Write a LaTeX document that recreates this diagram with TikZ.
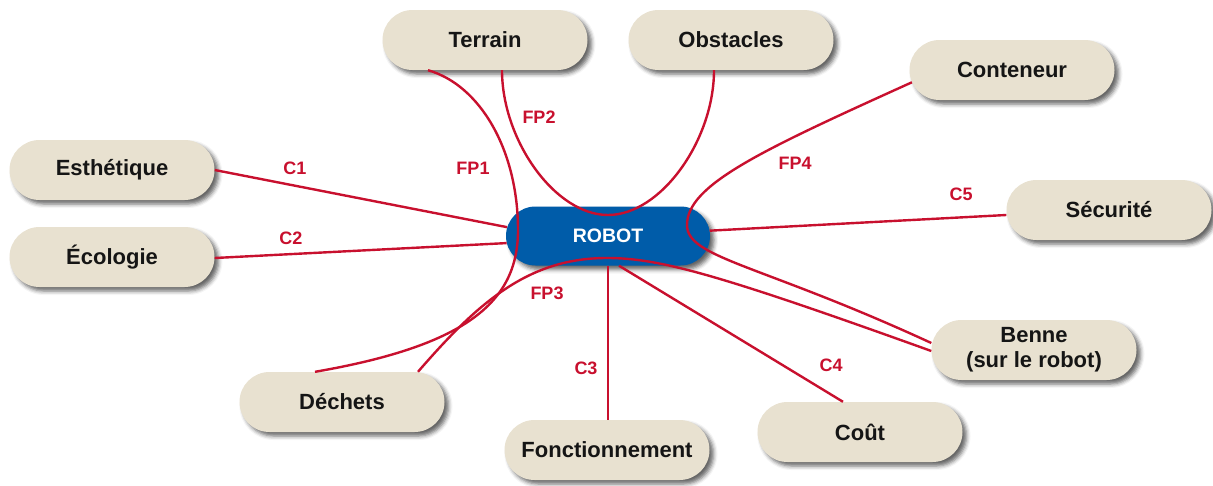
\documentclass[tikz,border=0pt]{standalone}
\usepackage{fontspec}
\setmainfont{Liberation Sans}
\usetikzlibrary{shapes.misc,shadows.blur}
\definecolor{fpred}{HTML}{C8102E}
\definecolor{robotblue}{HTML}{005CA9}
\definecolor{sand}{HTML}{E8E1D0}
\definecolor{ink}{HTML}{151515}
\begin{document}
\begin{tikzpicture}[x=1pt,y=-1pt,
  softshadow/.style={blur shadow={shadow xshift=4pt,shadow yshift=-4pt,shadow blur radius=4pt,shadow opacity=60}},
  box/.style={rounded rectangle, fill=sand, text=ink, minimum width=205pt, minimum height=60pt,
    inner sep=0pt, align=center, font=\bfseries\fontsize{22}{25}\selectfont, softshadow},
  hub/.style={rounded rectangle, fill=robotblue, text=white, minimum width=204pt, minimum height=59pt,
    inner sep=0pt, font=\bfseries\fontsize{19.5}{22}\selectfont, softshadow},
  link/.style={draw=fpred, line width=2.4pt},
  tag/.style={text=fpred, font=\bfseries\fontsize{18}{20}\selectfont, inner sep=0pt}]
\useasboundingbox (0,0) rectangle (1213,485);

% central hub and surrounding elements
\node[hub] (robot) at (608,236) {ROBOT};
\node[box] (terrain) at (485,40) {Terrain};
\node[box] (obst) at (731,40) {Obstacles};
\node[box] (cont) at (1012,70) {Conteneur};
\node[box] (esth) at (112,170) {Esthétique};
\node[box] (eco) at (112,257) {Écologie};
\node[box] (secu) at (1109,210) {Sécurité};
\node[box] (benne) at (1034,350) {Benne\\(sur le robot)};
\node[box] (dech) at (342,402) {Déchets};
\node[box] (fonc) at (607,450) {Fonctionnement};
\node[box] (cout) at (860,432) {Coût};

% constraints: straight links to the hub
\draw[link] (esth.east) -- (robot.175);
\draw[link] ([yshift=-1pt]eco.east) -- (robot.184);
\draw[link] (robot.3) -- ([yshift=-5pt]secu.west);
\draw[link] (robot.south) -- (robot.south |- fonc.north);
\draw[link] ([xshift=11pt]robot.south) -- ([xshift=-17pt]cout.north);

% main functions: curves passing by the hub
\draw[link] ([xshift=-57pt]terrain.south) .. controls (480,85) and (518,150) .. (518,230)
  .. controls (518,300) and (470,345) .. ([xshift=-27pt]dech.north);
\draw[link] ([xshift=17pt]terrain.south) .. controls (502,140) and (555,215) .. (608,215)
  .. controls (661,215) and (714,140) .. ([xshift=-17pt]obst.south);
\draw[link] ([xshift=76pt]dech.north) .. controls (480,300) and (530,258) .. (607,258)
  .. controls (660,258) and (720,275) .. ([yshift=-1pt]benne.west);
\draw[link] (cont.187) .. controls (760,151) and (687,185) .. (687,225)
  .. controls (687,258) and (760,264) .. ([yshift=7pt]benne.west);

% function and constraint labels
\node[tag] (lc1) at (295,168) {C1};
\node[tag] (lc2) at (291,238) {C2};
\node[tag] (lfp1) at (473,168) {FP1};
\node[tag] (lfp2) at (539,117) {FP2};
\node[tag] (lfp3) at (547,293) {FP3};
\node[tag] (lfp4) at (795,163) {FP4};
\node[tag] (lc3) at (586,368) {C3};
\node[tag] (lc4) at (831,365) {C4};
\node[tag] (lc5) at (961,194) {C5};
\end{tikzpicture}
\end{document}
